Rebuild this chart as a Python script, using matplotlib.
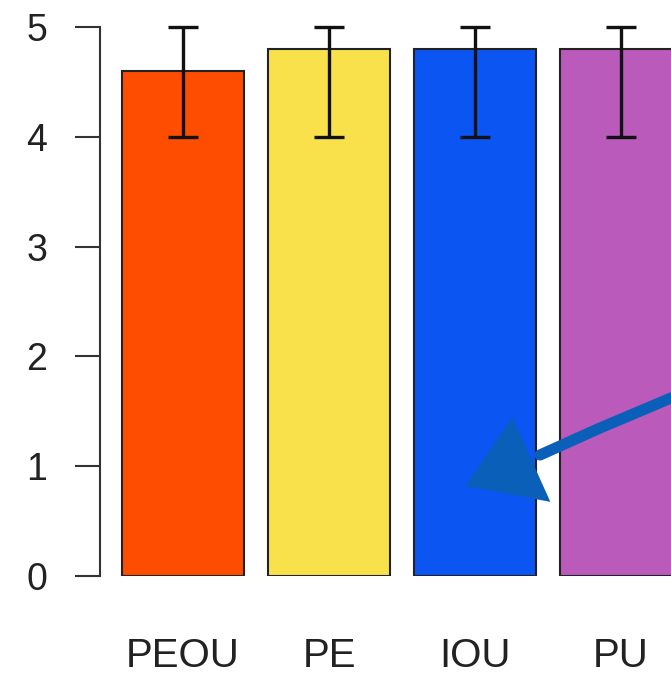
import matplotlib
matplotlib.use("Agg")
import matplotlib.pyplot as plt
from matplotlib.patches import Polygon
from matplotlib.lines import Line2D

labels = ["PEOU", "PE", "IOU", "PU"]
means = [4.6, 4.8, 4.8, 4.8]
err_low = [4.0, 4.0, 4.0, 4.0]
err_high = [5.0, 5.0, 5.0, 5.0]
colors = ["#FF4D00", "#F8E14A", "#0B55F2", "#BA5ABA"]

plt.rcParams["font.family"] = ["Liberation Sans", "DejaVu Sans"]

W, H = 671, 676
fig = plt.figure(figsize=(W / 100, H / 100), dpi=100)
ax = fig.add_axes([100 / W, 100 / H, 1 - 100 / W, 549 / H])

# R barplot style positions: width 1, space 0.2
xs = [0.7 + 1.2 * i for i in range(len(labels))]
ax.bar(xs, means, width=1.0, color=colors, edgecolor="#222222", linewidth=1.5, zorder=2)
lower = [m - lo for m, lo in zip(means, err_low)]
upper = [hi - m for m, hi in zip(means, err_high)]
ax.errorbar(xs, means, yerr=[lower, upper], fmt="none", ecolor="#111111",
            elinewidth=2.4, capsize=11, capthick=2.4, zorder=3, clip_on=False)

ax.set_xlim(0.018, 4.71)
ax.set_ylim(0, 5)
ax.set_yticks([0, 1, 2, 3, 4, 5])
ax.set_xticks(xs)
ax.set_xticklabels(labels)
for s in ["top", "right", "bottom"]:
    ax.spines[s].set_visible(False)
ax.spines["left"].set_linewidth(1.5)
ax.spines["left"].set_color("#333333")
ax.tick_params(axis="y", length=18, width=1.5, color="#333333", pad=20,
               labelsize=27, labelcolor="#222222")
ax.tick_params(axis="x", length=0, pad=44, labelsize=29, labelcolor="#222222")

# hand-drawn blue arrow annotation (figure pixel coords, origin top-left)
def px(x, y):
    return (x / W, 1 - y / H)

arrow_col = "#0A5FB8"
shaft = [px(671, 398), px(600, 428), px(540, 455)]
fig.add_artist(Line2D([p[0] for p in shaft], [p[1] for p in shaft],
                      transform=fig.transFigure, color=arrow_col, linewidth=8,
                      solid_capstyle="round"))
head = Polygon([px(512, 420), px(468, 485), px(548, 500)], closed=True,
               transform=fig.transFigure, facecolor=arrow_col, edgecolor=arrow_col,
               linewidth=2)
fig.add_artist(head)

plt.savefig("out.png", dpi=100)
